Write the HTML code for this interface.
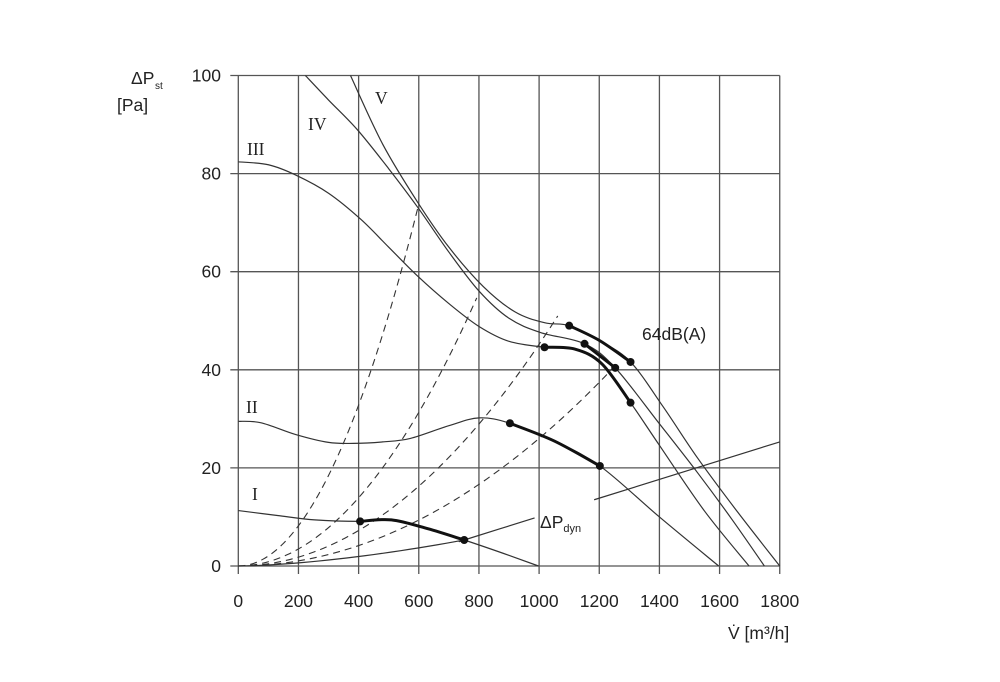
<!DOCTYPE html>
<html><head><meta charset="utf-8"><style>
html,body{margin:0;padding:0;background:#fff;}
svg{display:block;}
text{font-family:"Liberation Sans",sans-serif;fill:#222;}
.r{font-family:"Liberation Serif",serif;}
</style></head><body>
<svg id="s" width="1000" height="682" viewBox="0 0 1000 682" xmlns="http://www.w3.org/2000/svg">
<g id="grid" stroke="#555" stroke-width="1.3" fill="none"></g>
<g id="curves" fill="none" stroke="#333" stroke-width="1.2"></g>
<g id="lbl" font-size="17.5"></g>
</svg>
<script>
const NS="http://www.w3.org/2000/svg";
const X=v=>238.3+v*0.3008, Y=p=>566-p*4.905;
function el(parent,tag,attrs,txt){const e=document.createElementNS(NS,tag);for(const k in attrs)e.setAttribute(k,attrs[k]);if(txt!==undefined)e.textContent=txt;document.getElementById(parent).appendChild(e);return e;}
for(let v=0;v<=1800;v+=200)el('grid','line',{x1:X(v),y1:Y(100),x2:X(v),y2:Y(0)+8});
for(let p=0;p<=100;p+=20)el('grid','line',{x1:X(0)-8,y1:Y(p),x2:X(1800),y2:Y(p)});
function cr(pts){pts=pts.map(([v,p])=>[X(v),Y(p)]);let d=`M${pts[0][0]},${pts[0][1]}`;
for(let i=0;i<pts.length-1;i++){const p0=pts[Math.max(i-1,0)],p1=pts[i],p2=pts[i+1],p3=pts[Math.min(i+2,pts.length-1)];
d+=` C${p1[0]+(p2[0]-p0[0])/6},${p1[1]+(p2[1]-p0[1])/6} ${p2[0]-(p3[0]-p1[0])/6},${p2[1]-(p3[1]-p1[1])/6} ${p2[0]},${p2[1]}`;}return d;}
function curve(pts,extra){el('curves','path',Object.assign({d:cr(pts)},extra||{}));}
curve([[373,100],[480,86],[598,74],[700,65],[814,57],[920,51.8],[1018,49.6],[1100,49],[1200,46],[1304,41.6],[1412,32.5],[1527,22],[1660,11],[1800,0]]);
curve([[223,100],[300,95],[395,89],[500,81],[598,73],[700,64],[801,56],[900,50.5],[1005,47.6],[1151,45.3],[1253,40.4],[1400,29],[1527,19],[1640,9.6],[1749,0]]);
curve([[0,82.4],[100,81.8],[191,79.7],[300,76],[407,70.7],[500,65],[598,59],[700,53.5],[801,48.8],[900,45.8],[1018,44.6],[1120,44.2],[1209,41.2],[1304,33.3],[1400,24.6],[1550,11.2],[1698,0]]);
curve([[0,29.5],[76,29.2],[191,26.8],[300,25.2],[382,25],[480,25.3],[572,26],[700,28.6],[801,30.2],[903,29.1],[1050,25.5],[1202,20.4],[1400,10],[1597,0]]);
curve([[0,11.3],[130,10.3],[254,9.4],[405,9.1],[509,9.4],[630,7.6],[751,5.3],[880,2.6],[998,0]]);
// dyn line
let dp=[];for(let v=0;v<=751;v+=30)dp.push([v,5.3*Math.pow(v/751,1.6)]);dp.push([751,5.3]);dp.push([985,9.8]);curve(dp);
el('curves','line',{x1:X(1183),y1:Y(5.3+(1183-751)*0.019),x2:X(1800),y2:Y(25.3)});
[[2.05e-4,617],[8.7e-5,820],[4.52e-5,1062],[2.6e-5,1304]].forEach(([k,e])=>{let p=[];for(let v=0;v<=e;v+=e/30)p.push([v,k*v*v]);curve(p,{'stroke-dasharray':'7,5','stroke-width':1.1});});
curve([[1100,49],[1200,46],[1304,41.6]],{'stroke-width':3,stroke:'#111'});
curve([[1151,45.3],[1253,40.4]],{'stroke-width':3,stroke:'#111'});
curve([[1018,44.6],[1120,44.2],[1209,41.2],[1304,33.3]],{'stroke-width':3,stroke:'#111'});
curve([[903,29.1],[1050,25.5],[1202,20.4]],{'stroke-width':3,stroke:'#111'});
curve([[405,9.1],[509,9.4],[630,7.6],[751,5.3]],{'stroke-width':3,stroke:'#111'});
[[1100,49],[1304,41.6],[1151,45.3],[1253,40.4],[1018,44.6],[1304,33.3],[903,29.1],[1202,20.4],[405,9.1],[751,5.3]].forEach(([v,p])=>el('curves','circle',{cx:X(v),cy:Y(p),r:4,fill:'#111',stroke:'none'}));
for(let v=0;v<=1800;v+=200)el('lbl','text',{x:X(v),y:607,'text-anchor':'middle'},v);
for(let p=0;p<=100;p+=20)el('lbl','text',{x:221,y:Y(p)+6,'text-anchor':'end'},p);
el('lbl','text',{x:642,y:340},'64dB(A)');
el('lbl','text',{x:728,y:639},'V̇ [m³/h]');
el('lbl','text',{x:131,y:84},'ΔP');
el('lbl','text',{x:155,y:89,'font-size':10},'st');
el('lbl','text',{x:117,y:111},'[Pa]');
const d=el('lbl','text',{x:540,y:528});d.innerHTML='ΔP<tspan font-size="11" dy="4">dyn</tspan>';
[['V',375,104],['IV',308,130],['III',247,155],['II',246,413],['I',252,500]].forEach(([t,x,y])=>el('lbl','text',{x:x,y:y,class:'r'},t));
</script>
</body></html>
